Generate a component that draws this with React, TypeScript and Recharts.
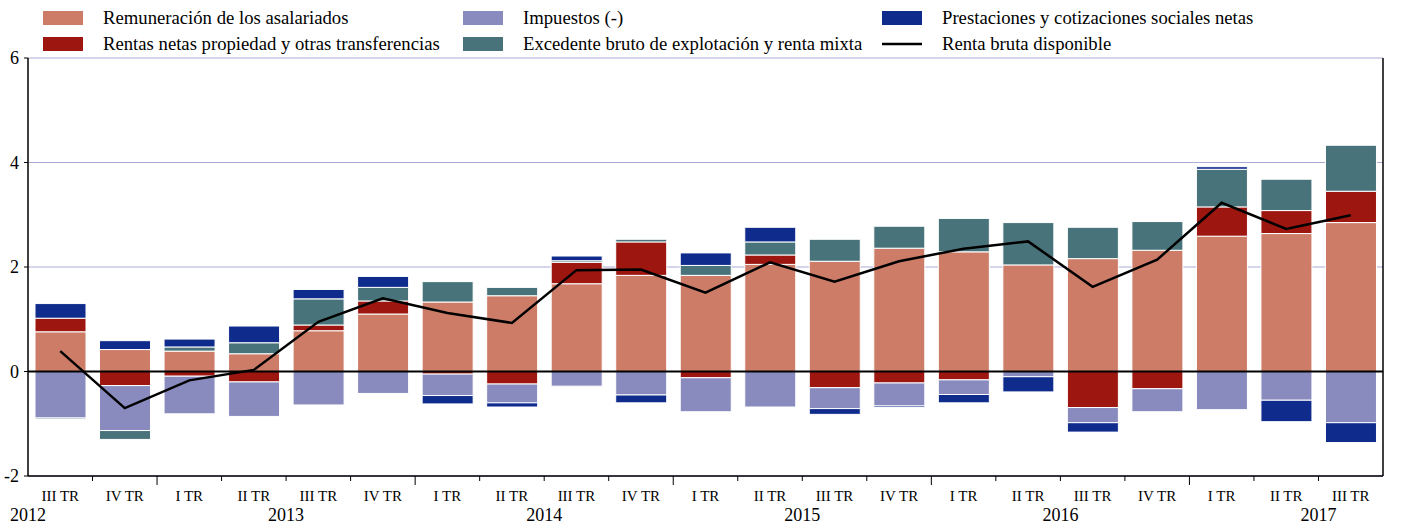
import { ComposedChart, Bar, Line, XAxis, YAxis, CartesianGrid, ReferenceLine } from 'recharts'

// trimestres 2012 III TR - 2017 III TR
const quarters = [
  'III TR', 'IV TR',
  'I TR', 'II TR', 'III TR', 'IV TR',
  'I TR', 'II TR', 'III TR', 'IV TR',
  'I TR', 'II TR', 'III TR', 'IV TR',
  'I TR', 'II TR', 'III TR', 'IV TR',
  'I TR', 'II TR', 'III TR',
]
const years = [
  '2012', '2012',
  '2013', '2013', '2013', '2013',
  '2014', '2014', '2014', '2014',
  '2015', '2015', '2015', '2015',
  '2016', '2016', '2016', '2016',
  '2017', '2017', '2017',
]

const remuneracion = [0.76, 0.42, 0.39, 0.34, 0.78, 1.1, 1.33, 1.45, 1.68, 1.84, 1.84, 2.05, 2.11, 2.36, 2.29, 2.04, 2.16, 2.32, 2.59, 2.64, 2.85]
const rentas = [0.26, -0.27, -0.09, -0.2, 0.11, 0.25, -0.05, -0.24, 0.41, 0.64, -0.12, 0.18, -0.31, -0.22, -0.16, 0, -0.69, -0.33, 0.56, 0.44, 0.6]
const impuestos = [-0.89, -0.86, -0.72, -0.66, -0.64, -0.42, -0.41, -0.36, -0.28, -0.45, -0.65, -0.68, -0.4, -0.44, -0.28, -0.1, -0.29, -0.44, -0.73, -0.55, -0.98]
const excedente = [-0.02, -0.17, 0.08, 0.21, 0.5, 0.26, 0.39, 0.16, 0.03, 0.05, 0.19, 0.25, 0.42, 0.42, 0.64, 0.81, 0.6, 0.55, 0.72, 0.6, 0.88]
const prestaciones = [0.28, 0.17, 0.15, 0.32, 0.18, 0.21, -0.16, -0.08, 0.09, -0.15, 0.24, 0.28, -0.11, -0.03, -0.16, -0.29, -0.18, 0.02, 0.05, -0.41, -0.38]
const rentaBruta = [0.39, -0.7, -0.17, 0.03, 0.95, 1.4, 1.12, 0.93, 1.94, 1.95, 1.51, 2.09, 1.72, 2.11, 2.35, 2.49, 1.62, 2.14, 3.23, 2.73, 2.99]

const yTicks = [-2, 0, 2, 4, 6]

const data = quarters.map((q, i) => ({
  q,
  year: years[i],
  rem: remuneracion[i],
  rentas: rentas[i],
  imp: impuestos[i],
  exc: excedente[i],
  prest: prestaciones[i],
  rbd: rentaBruta[i],
}))

const C_REM = '#CD7C68'
const C_RENTAS = '#9D1610'
const C_IMP = '#898BBE'
const C_EXC = '#49737A'
const C_PREST = '#0F2B8B'

const W = 1423
const H = 524
const LEFT = 28
const RIGHT = 40
const PLOT_W = W - LEFT - RIGHT
const BAND = PLOT_W / quarters.length
const FONT = '"Liberation Serif", "Times New Roman", serif'

const QuarterTick = (props: any) => {
  const { x, y, payload } = props
  const i = payload.index
  const q = quarters[i]
  const newYear = quarters[i + 1] === 'I TR'
  const bx = x + BAND / 2
  return (
    <g>
      {i < quarters.length - 1 && (
        <line x1={bx} x2={bx} y1={y} y2={y + (newYear ? 9 : 5)} stroke='#000' strokeWidth={1} />
      )}
      <text x={x} y={y + 25} textAnchor='middle' fontSize={15} fontFamily={FONT} fill='#000'>
        {q}
      </text>
      {q === 'III TR' && (
        <text x={x - BAND / 2} y={y + 45} textAnchor='middle' fontSize={18} fontFamily={FONT} fill='#000'>
          {years[i]}
        </text>
      )}
    </g>
  )
}

const legendItems = [
  { name: 'Remuneración de los asalariados', color: C_REM, col: 0, row: 0 },
  { name: 'Rentas netas propiedad y otras transferencias', color: C_RENTAS, col: 0, row: 1 },
  { name: 'Impuestos (-)', color: C_IMP, col: 1, row: 0 },
  { name: 'Excedente bruto de explotación y renta mixta', color: C_EXC, col: 1, row: 1 },
  { name: 'Prestaciones y cotizaciones sociales netas', color: C_PREST, col: 2, row: 0 },
  { name: 'Renta bruta disponible', color: '#000', col: 2, row: 1, line: true },
]
const colX = [43, 463, 882]

const App = () => {
  return (
    <div style={{ position: 'absolute', left: 0, top: 0, width: W, height: H, background: '#fff' }}>
      <svg width={W} height={58} style={{ position: 'absolute', left: 0, top: 0 }}>
        {legendItems.map((it) => {
          const x = colX[it.col]
          const cy = it.row === 0 ? 18 : 44
          return (
            <g key={it.name}>
              {it.line ? (
                <line x1={x} x2={x + 40} y1={cy} y2={cy} stroke='#000' strokeWidth={2.5} />
              ) : (
                <rect x={x} y={cy - 7} width={40} height={14} fill={it.color} />
              )}
              <text x={x + 60} y={cy + 6} fontSize={18.7} fontFamily={FONT} fill='#000'>
                {it.name}
              </text>
            </g>
          )
        })}
      </svg>
      <ComposedChart
        width={W}
        height={H}
        data={data}
        stackOffset='sign'
        margin={{ top: 58, right: 0, bottom: 0, left: 0 }}
        style={{ position: 'absolute', left: 0, top: 0 }}
      >
        <CartesianGrid horizontal vertical={false} stroke='#A9ABD6' strokeWidth={1} yAxisId='left' />
        <XAxis
          dataKey='q'
          interval={0}
          height={48}
          tickLine={false}
          tickSize={0}
          tickMargin={0}
          axisLine={{ stroke: '#000', strokeWidth: 1.5 }}
          tick={<QuarterTick />}
        />
        <YAxis
          yAxisId='left'
          width={LEFT}
          domain={[-2, 6]}
          ticks={yTicks}
          tickSize={4}
          tickMargin={5}
          axisLine={{ stroke: '#000', strokeWidth: 1.5 }}
          tickLine={{ stroke: '#000' }}
          tick={{ fontSize: 18, fontFamily: FONT, fill: '#000' }}
        />
        <YAxis
          yAxisId='right'
          orientation='right'
          width={RIGHT}
          domain={[-2, 6]}
          ticks={yTicks}
          tickSize={4}
          tickMargin={9}
          axisLine={{ stroke: '#000', strokeWidth: 1.5 }}
          tickLine={{ stroke: '#000' }}
          tick={{ fontSize: 18, fontFamily: FONT, fill: '#000', textAnchor: 'start' }}
        />
        <ReferenceLine y={0} yAxisId='left' stroke='#000' strokeWidth={2} />
        <Bar yAxisId='left' dataKey='rem' stackId='a' fill={C_REM} stroke='#fff' strokeWidth={1} barSize={51} isAnimationActive={false} />
        <Bar yAxisId='left' dataKey='rentas' stackId='a' fill={C_RENTAS} stroke='#fff' strokeWidth={1} barSize={51} isAnimationActive={false} />
        <Bar yAxisId='left' dataKey='imp' stackId='a' fill={C_IMP} stroke='#fff' strokeWidth={1} barSize={51} isAnimationActive={false} />
        <Bar yAxisId='left' dataKey='exc' stackId='a' fill={C_EXC} stroke='#fff' strokeWidth={1} barSize={51} isAnimationActive={false} />
        <Bar yAxisId='left' dataKey='prest' stackId='a' fill={C_PREST} stroke='#fff' strokeWidth={1} barSize={51} isAnimationActive={false} />
        <Line
          yAxisId='left'
          dataKey='rbd'
          type='linear'
          stroke='#000'
          strokeWidth={2.5}
          dot={false}
          isAnimationActive={false}
        />
      </ComposedChart>
    </div>
  )
}

export default App
